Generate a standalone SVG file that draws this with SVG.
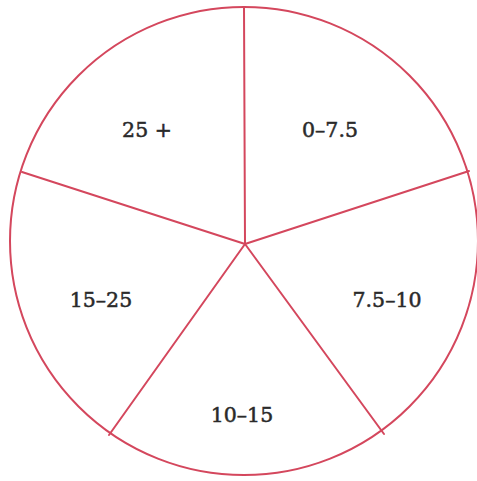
<svg xmlns="http://www.w3.org/2000/svg" width="477" height="481" viewBox="0 0 477 481">
<style>
.ln{fill:none;stroke:#d4475d;stroke-width:2;stroke-linecap:round}
.lb{font-family:"DejaVu Serif","Liberation Serif",serif;font-size:20.5px;fill:#2a2a2a;stroke:#2a2a2a;stroke-width:0.5;text-anchor:middle}
</style>
<rect width="477" height="481" fill="#fff"/>
<g id="connectors">
<circle class="ln" cx="244" cy="241" r="234"/>
<line class="ln" x1="245" y1="244" x2="244" y2="7"/>
<line class="ln" x1="245" y1="244" x2="469" y2="171"/>
<line class="ln" x1="245" y1="244" x2="384" y2="434"/>
<line class="ln" x1="245" y1="244" x2="109" y2="435"/>
<line class="ln" x1="245" y1="244" x2="22" y2="172"/>
</g>
<g id="n1"><text class="lb" x="147" y="137">25 +</text></g>
<g id="n2"><text class="lb" x="330" y="137">0–7.5</text></g>
<g id="n3"><text class="lb" x="387" y="307">7.5–10</text></g>
<g id="n4"><text class="lb" x="242" y="422">10–15</text></g>
<g id="n5"><text class="lb" x="101" y="307">15–25</text></g>
</svg>
